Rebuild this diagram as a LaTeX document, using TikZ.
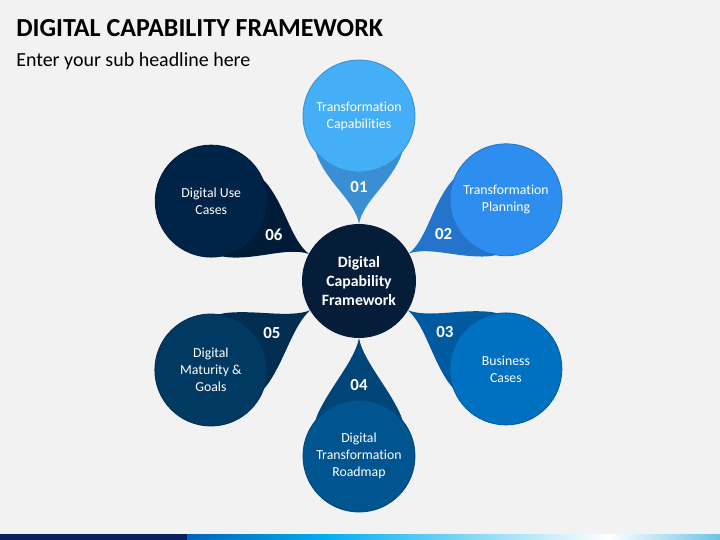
\documentclass[tikz,border=0pt]{standalone}
\usepackage{fontspec}
\setmainfont{Carlito}[Ligatures=NoCommon]
\usepackage{tikz}
\usetikzlibrary{positioning, calc}

\definecolor{PageGray}{HTML}{F2F2F2}
\definecolor{HubNavy}{HTML}{061D3A}
\definecolor{CapBlue}{HTML}{44AEF7}
\definecolor{CapTail}{HTML}{3A8FD3}
\definecolor{PlanBlue}{HTML}{2D8EF0}
\definecolor{PlanTail}{HTML}{2474CB}
\definecolor{BizBlue}{HTML}{0070C0}
\definecolor{BizTail}{HTML}{005AA0}
\definecolor{RoadBlue}{HTML}{00548F}
\definecolor{RoadTail}{HTML}{004577}
\definecolor{GoalBlue}{HTML}{003A63}
\definecolor{GoalTail}{HTML}{002D50}
\definecolor{UseBlue}{HTML}{002447}
\definecolor{UseTail}{HTML}{001B37}
\definecolor{BarNavy}{HTML}{0A1F5E}
\definecolor{BarBlue}{HTML}{0064B8}
\definecolor{BarCyan}{HTML}{00AEEF}
\definecolor{BarSky}{HTML}{6EC2EA}

\begin{document}
\begin{tikzpicture}[
	HubNode/.style={circle, fill=HubNavy, minimum size=2.85cm, inner sep=0pt, text=white, align=center, font=\fontsize{11.2}{13.5}\selectfont\bfseries},
	BubbleNode/.style={circle, minimum size=2.8cm, inner sep=0pt, line width=0.6pt, text=white, align=center, font=\fontsize{9.8}{12.1}\selectfont},
	NumLabel/.style={text=white, font=\fontsize{12}{14}\selectfont\bfseries}]

	% Canvas
	\fill[PageGray] (0,0) rectangle (18,13.5);
	\useasboundingbox (0,0) rectangle (18,13.5);

	% Headline
	\node[anchor=base west, inner sep=0pt, font=\fontsize{18.5}{22}\selectfont\bfseries] (Title) at (0.4,12.575) {DIGITAL CAPABILITY FRAMEWORK};
	\node[anchor=base west, inner sep=0pt, font=\fontsize{14.2}{17}\selectfont] (SubTitle) at (0.4,11.825) {Enter your sub headline here};

	% Nodes
	\node[HubNode] (Hub) at (8.975,6.475) {Digital\\Capability\\Framework};

	\foreach \n/\ang/\dist/\col/\tail/\txt in {
		01/90/4.125/CapBlue/CapTail/{Transformation\\Capabilities},
		02/28.9/4.2/PlanBlue/PlanTail/{Transformation\\Planning},
		03/-30.9/4.28/BizBlue/BizTail/{Business\\Cases},
		04/-90/4.375/RoadBlue/RoadTail/{Digital\\Transformation\\Roadmap},
		05/211/4.32/GoalBlue/GoalTail/{Digital\\Maturity \&\\Goals},
		06/151.6/4.2/UseBlue/UseTail/{Digital Use\\Cases}}
	{
		\coordinate (P\n) at ([shift={(\ang:\dist)}]Hub.center);
		% Tails
		\begin{scope}[shift={(P\n)}, rotate=\ang+180, x=0.025cm, y=0.025cm]
			\pgfmathsetmacro{\tip}{\dist*40-57}
			\fill[\tail] (\tip,0) .. controls (\tip-22,4) and (70.2,28.1) .. (43,40.8)
				arc[start angle=65, end angle=295, radius=45]
				.. controls (70.2,-28.1) and (\tip-22,-4) .. (\tip,0) -- cycle;
		\end{scope}
		\node[BubbleNode, fill=\col, draw=\tail] (B\n) at (P\n) {\txt};
		\node[NumLabel] (N\n) at ($(B\n)!1.78cm!(Hub)$) {\n};
	}

	% Bottom bar
	\fill[BarNavy] (0,0) rectangle (4.68,0.15);
	\shade[left color=BarBlue, right color=BarCyan] (4.68,0) rectangle (8.1,0.15);
	\shade[left color=BarCyan, right color=white] (8.1,0) rectangle (15.2,0.15);
	\shade[left color=white, right color=BarSky] (15.2,0) rectangle (18,0.15);
\end{tikzpicture}
\end{document}
